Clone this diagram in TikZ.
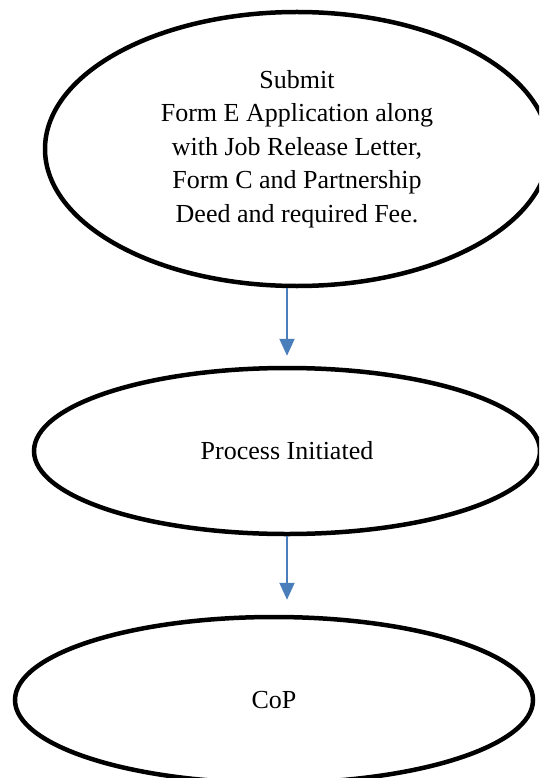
\documentclass[tikz,border=0pt]{standalone}
\usepackage{fontspec}
\setmainfont{Liberation Serif}
\usetikzlibrary{arrows.meta,shapes.geometric,calc}
\definecolor{arrowblue}{RGB}{74,126,187}
\tikzset{
  oval/.style={ellipse, draw=black, line width=4.5pt, inner sep=0pt, align=center,
    font=\fontsize{26}{33.5}\selectfont},
  flow/.style={draw=arrowblue, line width=2pt, -{Triangle[width=15pt,length=17pt]}}
}
\begin{document}
\begin{tikzpicture}[x=1pt,y=-1pt]
\useasboundingbox (0,0) rectangle (539,778);
\clip (0,0) rectangle (539,778);
\node[oval, minimum width=504pt, minimum height=274pt] (top) at (297,149)
  {Submit\\Form E Application along\\with Job Release Letter,\\Form C and Partnership\\Deed and required Fee.};
\node[oval, minimum width=506pt, minimum height=166pt] (mid) at (287,451) {Process Initiated};
\node[oval, minimum width=518pt, minimum height=166pt] (bot) at (274,700) {CoP};
\coordinate (a1s) at (mid.north |- top.south);
\coordinate (a1e) at ($(mid.north)+(0,-10)$);
\coordinate (a2e) at ($(mid.south |- bot.north)+(0,-15)$);
\draw[flow] (a1s) -- (a1e);
\draw[flow] (mid.south) -- (a2e);
\end{tikzpicture}
\end{document}
